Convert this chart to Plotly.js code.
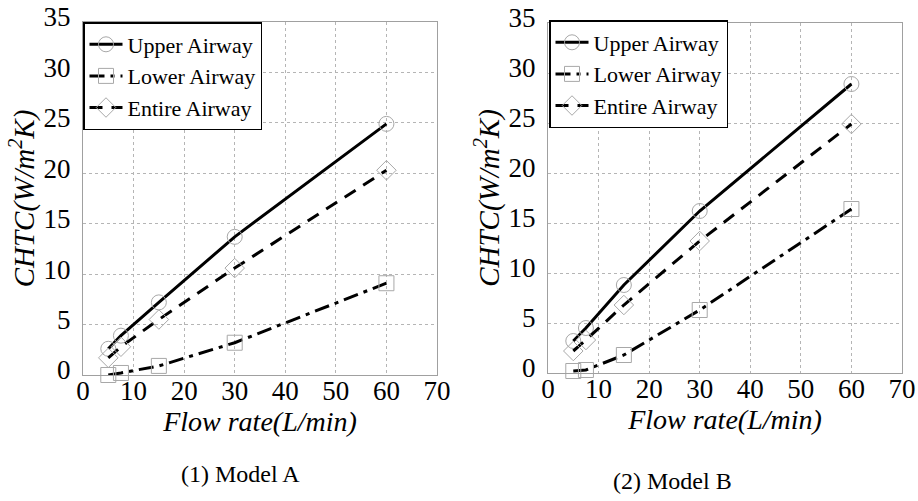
<!DOCTYPE html>
<html>
<head>
<meta charset="utf-8">
<script src="https://cdn.plot.ly/plotly-3.0.1.min.js"></script>
<style>html,body{margin:0;padding:0;background:#fff;}#chart{width:918px;height:501px;}</style>
</head>
<body>
<div id="chart"></div>
<script>
// Data
const flowRate = [5, 7.5, 15, 30, 60];
const upperA = [2.6, 3.9, 7.2, 13.7, 24.9];
const lowerA = [0.0, 0.2, 0.9, 3.2, 9.1];
const entireA = [1.7, 2.8, 5.5, 10.6, 20.3];
const upperB = [3.2, 4.5, 8.8, 16.2, 28.9];
const lowerB = [0.2, 0.3, 1.8, 6.3, 16.4];
const entireB = [2.2, 3.3, 6.8, 13.2, 24.9];
const seriesNames = ['Upper Airway', 'Lower Airway', 'Entire Airway'];
const panelTitles = ['(1) Model A', '(2) Model B'];
const xTitle = '<i>Flow rate(L/min)</i>';
const yTitle = '<i>CHTC(W/m<sup>2</sup>K)</i>';

const FONT = 'Liberation Serif';
const W = 918, H = 501;
const styles = [
  {dash: 'solid', symbol: 'circle-open'},
  {dash: '15px,6px,4px,6px', symbol: 'square-open'},
  {dash: '13px,9px', symbol: 'diamond-open'}
];

function mk(y, i, xa, ya, leg) {
  return {
    x: flowRate, y: y, name: seriesNames[i],
    xaxis: xa, yaxis: ya, legend: leg,
    mode: 'lines+markers', type: 'scatter',
    line: {color: '#000', width: 3, dash: styles[i].dash},
    marker: {symbol: styles[i].symbol, size: 15, color: '#a8a8a8', line: {color: '#a8a8a8', width: 1}},
    cliponaxis: false
  };
}

const data = [
  mk(upperA, 0, 'x', 'y', 'legend'),
  mk(lowerA, 1, 'x', 'y', 'legend'),
  mk(entireA, 2, 'x', 'y', 'legend'),
  mk(upperB, 0, 'x2', 'y2', 'legend2'),
  mk(lowerB, 1, 'x2', 'y2', 'legend2'),
  mk(entireB, 2, 'x2', 'y2', 'legend2')
];

function xaxis(domain, anchor) {
  return {
    domain: domain, anchor: anchor, range: [0, 70], dtick: 10, tick0: 0,
    showgrid: true, gridcolor: '#b5b5b5', griddash: 'dot', gridwidth: 1,
    showline: true, linecolor: '#a0a0a0', linewidth: 1, mirror: true,
    zeroline: false, ticks: '', automargin: false, ticklabelstandoff: -8,
    tickfont: {family: FONT, size: 27, color: '#000'},
    title: {text: xTitle, font: {family: FONT, size: 28, color: '#000'}, standoff: 0}
  };
}
function yaxis(domain, anchor) {
  return {
    domain: domain, anchor: anchor, range: [0, 35], dtick: 5, tick0: 0,
    showgrid: true, gridcolor: '#b5b5b5', griddash: 'dot', gridwidth: 1,
    showline: true, linecolor: '#a0a0a0', linewidth: 1, mirror: true,
    zeroline: false, ticks: '', automargin: false, ticklabelstandoff: 6, ticklabelshift: -5,
    tickfont: {family: FONT, size: 27, color: '#000'},
    title: {text: yTitle, font: {family: FONT, size: 29, color: '#000'}, standoff: 0}
  };
}

const legendStyle = (x, y) => ({
  x: x, y: y, xanchor: 'left', yanchor: 'top',
  bgcolor: '#fff', bordercolor: '#000', borderwidth: 1.5,
  font: {family: FONT, size: 22, color: '#000'},
  tracegroupgap: 0, itemwidth: 33
});

const layout = {
  width: W, height: H,
  font: {family: FONT, color: '#000'},
  margin: {l: 0, r: 0, t: 0, b: 0},
  paper_bgcolor: '#fff', plot_bgcolor: '#fff',
  showlegend: true,
  xaxis: xaxis([83 / W, 437 / W], 'y'),
  yaxis: yaxis([(H - 375) / H, (H - 22) / H], 'x'),
  xaxis2: xaxis([548 / W, 902 / W], 'y2'),
  yaxis2: yaxis([(H - 373) / H, (H - 23) / H], 'x2'),
  legend: legendStyle(83 / W, (H - 22) / H),
  legend2: legendStyle(549 / W, (H - 20) / H),
  annotations: [
    {text: panelTitles[0], xref: 'paper', yref: 'paper', x: 241 / W, y: (H - 474) / H,
     showarrow: false, xanchor: 'center', yanchor: 'middle', font: {family: FONT, size: 24, color: '#000'}},
    {text: panelTitles[1], xref: 'paper', yref: 'paper', x: 672 / W, y: (H - 481) / H,
     showarrow: false, xanchor: 'center', yanchor: 'middle', font: {family: FONT, size: 24, color: '#000'}}
  ]
};

Plotly.newPlot('chart', data, layout, {staticPlot: true, displayModeBar: false});
</script>
</body>
</html>
